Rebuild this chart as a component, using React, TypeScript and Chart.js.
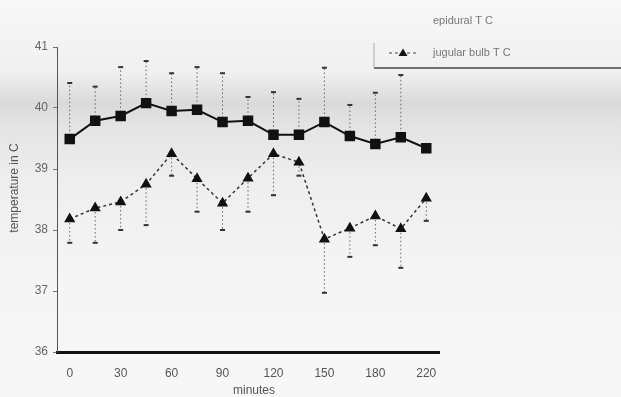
import React, { useEffect, useRef } from "react";
import { Chart, registerables } from "chart.js";

Chart.register(...registerables);

const minutes = ["0", "15", "30", "45", "60", "75", "90", "105", "120", "135", "150", "165", "180", "195", "220"];
const xTickLabels = ["0", "30", "60", "90", "120", "150", "180", "220"];
const yTicks = [36, 37, 38, 39, 40, 41];

const epidural = [39.49, 39.79, 39.87, 40.08, 39.95, 39.97, 39.77, 39.79, 39.56, 39.56, 39.77, 39.54, 39.41, 39.52, 39.34];
const epiduralUpper = [40.41, 40.35, 40.67, 40.77, 40.57, 40.67, 40.57, 40.18, 40.26, 40.15, 40.66, 40.05, 40.25, 40.54, null];
const jugular = [38.18, 38.36, 38.46, 38.75, 39.25, 38.84, 38.44, 38.85, 39.25, 39.11, 37.85, 38.03, 38.23, 38.02, 38.52];
const jugularLower = [37.79, 37.79, 38.0, 38.08, 38.89, 38.3, 38.0, 38.3, 38.57, 38.89, 36.97, 37.56, 37.75, 37.38, 38.15];

const seriesNames = ["epidural T C", "jugular bulb T C"];
const yTitle = "temperature in C";
const xTitle = "minutes";

const FONT = "'Liberation Sans', Arial, sans-serif";

const bgPlugin = {
  id: "bg",
  beforeDraw(chart: any) {
    const { ctx, width, height } = chart;
    ctx.save();
    const g = ctx.createLinearGradient(0, 0, 0, height);
    g.addColorStop(0, "#f8f8f8");
    g.addColorStop(0.18, "#f0f0f0");
    g.addColorStop(0.26, "#dadada");
    g.addColorStop(0.32, "#e4e4e4");
    g.addColorStop(0.45, "#eeeeee");
    g.addColorStop(0.7, "#f5f5f5");
    g.addColorStop(1, "#f7f7f7");
    ctx.fillStyle = g;
    ctx.fillRect(0, 0, width, height);
    ctx.restore();
  },
};

const errorPlugin = {
  id: "errbars",
  beforeDatasetsDraw(chart: any) {
    const { ctx } = chart;
    const xs = chart.scales.x;
    const ys = chart.scales.y;
    const draw = (vals: number[], ends: (number | null)[]) => {
      vals.forEach((v, i) => {
        const e = ends[i];
        if (e === null || e === undefined) return;
        const x = xs.getPixelForValue(i);
        const y1 = ys.getPixelForValue(v);
        const y2 = ys.getPixelForValue(e);
        ctx.save();
        ctx.strokeStyle = "#666";
        ctx.lineWidth = 1;
        ctx.setLineDash([1.5, 2.5]);
        ctx.beginPath();
        ctx.moveTo(x, y1);
        ctx.lineTo(x, y2);
        ctx.stroke();
        ctx.setLineDash([]);
        ctx.strokeStyle = "#333";
        ctx.lineWidth = 2;
        ctx.beginPath();
        ctx.moveTo(x - 2.5, y2);
        ctx.lineTo(x + 2.5, y2);
        ctx.stroke();
        ctx.restore();
      });
    };
    draw(epidural, epiduralUpper);
    draw(jugular, jugularLower);
  },
};

const decorPlugin = {
  id: "decor",
  afterDraw(chart: any) {
    const { ctx, chartArea } = chart;
    ctx.save();
    // legend frame
    ctx.strokeStyle = "#444";
    ctx.lineWidth = 1.5;
    ctx.beginPath();
    ctx.moveTo(374, 68);
    ctx.lineTo(621, 68);
    ctx.stroke();
    ctx.strokeStyle = "#aaa";
    ctx.lineWidth = 1;
    ctx.beginPath();
    ctx.moveTo(374, 43);
    ctx.lineTo(374, 68);
    ctx.stroke();
    // legend texts
    ctx.fillStyle = "#777";
    ctx.font = `11px ${FONT}`;
    ctx.textBaseline = "middle";
    ctx.textAlign = "left";
    ctx.fillText(seriesNames[0], 433, 21);
    ctx.fillText(seriesNames[1], 433, 53);
    // legend marker for jugular
    ctx.strokeStyle = "#444";
    ctx.lineWidth = 1.2;
    ctx.setLineDash([3, 3]);
    ctx.beginPath();
    ctx.moveTo(389, 53);
    ctx.lineTo(418, 53);
    ctx.stroke();
    ctx.setLineDash([]);
    ctx.fillStyle = "#111";
    ctx.beginPath();
    ctx.moveTo(403, 48.5);
    ctx.lineTo(407.5, 56);
    ctx.lineTo(398.5, 56);
    ctx.closePath();
    ctx.fill();
    // axis titles
    ctx.fillStyle = "#555";
    ctx.font = `12px ${FONT}`;
    ctx.textAlign = "center";
    ctx.fillText(xTitle, (chartArea.left + chartArea.right) / 2 + 6, 391);
    ctx.translate(15, 188);
    ctx.rotate(-Math.PI / 2);
    ctx.fillText(yTitle, 0, 0);
    ctx.restore();
  },
};

export default function App() {
  const ref = useRef<HTMLCanvasElement | null>(null);
  useEffect(() => {
    if (!ref.current) return;
    const chart = new Chart(ref.current, {
      type: "line",
      data: {
        labels: minutes,
        datasets: [
          {
            label: seriesNames[0],
            data: epidural,
            borderColor: "#111",
            backgroundColor: "#111",
            borderWidth: 2,
            pointStyle: "rect",
            pointRadius: 6,
            pointBackgroundColor: "#111",
            pointBorderColor: "#111",
            tension: 0,
          },
          {
            label: seriesNames[1],
            data: jugular,
            borderColor: "#333",
            backgroundColor: "#111",
            borderWidth: 1.5,
            borderDash: [3, 3],
            pointStyle: "triangle",
            pointRadius: 5,
            pointBackgroundColor: "#111",
            pointBorderColor: "#111",
            tension: 0,
          },
        ],
      },
      options: {
        responsive: false,
        animation: false,
        devicePixelRatio: 1,
        layout: { padding: { top: 47, right: 182, bottom: 0, left: 0 } },
        plugins: {
          legend: { display: false },
          tooltip: { enabled: false },
          title: { display: false },
        },
        scales: {
          x: {
            type: "category",
            offset: true,
            grid: { display: false },
            border: { display: true, color: "#111", width: 3 },
            ticks: {
              autoSkip: false,
              maxRotation: 0,
              padding: 6,
              color: "#555",
              font: { family: FONT, size: 12 },
              callback: (_v: any, i: number) => (xTickLabels.includes(minutes[i]) ? minutes[i] : ""),
            },
            afterFit: (s: any) => {
              s.height = 45;
            },
          },
          y: {
            min: 36,
            max: 41,
            afterBuildTicks: (s: any) => {
              s.ticks = yTicks.map((v) => ({ value: v }));
            },
            grid: {
              display: true,
              drawOnChartArea: false,
              drawTicks: true,
              tickLength: 4,
              color: "#777",
            },
            border: { display: true, color: "#555", width: 1, dash: [2, 2] },
            ticks: {
              padding: 5,
              color: "#666",
              font: { family: FONT, size: 12 },
            },
            afterFit: (s: any) => {
              s.width = 57;
            },
          },
        },
      },
      plugins: [bgPlugin, errorPlugin, decorPlugin],
    });
    return () => chart.destroy();
  }, []);
  return (
    <div style={{ position: "fixed", left: 0, top: 0, width: 621, height: 397 }}>
      <canvas ref={ref} width={621} height={397} />
    </div>
  );
}
